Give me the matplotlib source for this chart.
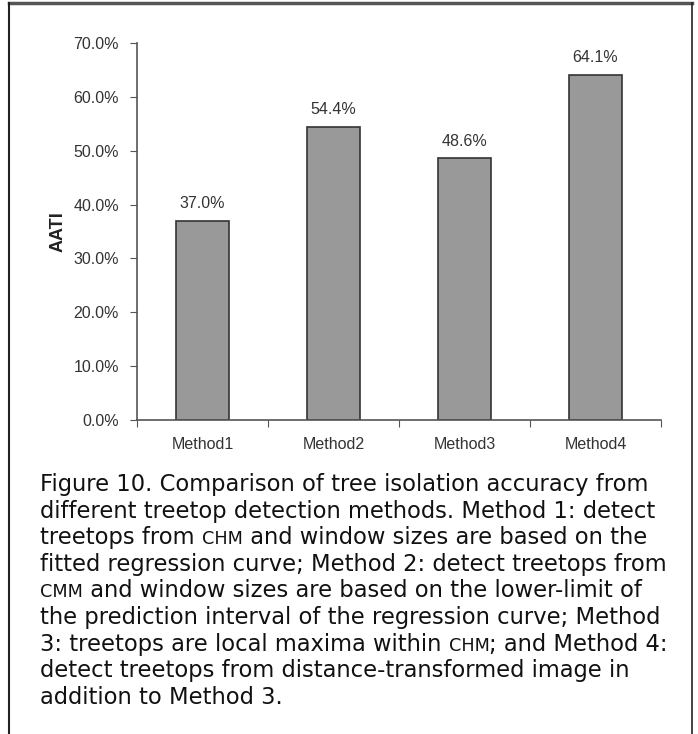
import matplotlib
matplotlib.use("Agg")
import matplotlib.pyplot as plt
from matplotlib.lines import Line2D
from matplotlib.ticker import FuncFormatter, FixedLocator

methods = ["Method1", "Method2", "Method3", "Method4"]
aati = [37.0, 54.4, 48.6, 64.1]
y_ticks = [0, 10, 20, 30, 40, 50, 60, 70]

caption_lines = [
    [("Figure 10. Comparison of tree isolation accuracy from", 1)],
    [("different treetop detection methods. Method 1: detect", 1)],
    [("treetops from ", 1), ("CHM", 0.78), (" and window sizes are based on the", 1)],
    [("fitted regression curve; Method 2: detect treetops from", 1)],
    [("CMM", 0.78), (" and window sizes are based on the lower-limit of", 1)],
    [("the prediction interval of the regression curve; Method", 1)],
    [("3: treetops are local maxima within ", 1), ("CHM", 0.78), ("; and Method 4:", 1)],
    [("detect treetops from distance-transformed image in", 1)],
    [("addition to Method 3.", 1)],
]

W, H = 698, 734
fig = plt.figure(figsize=(W / 100, H / 100), dpi=100)
fig.patch.set_facecolor("white")

lab_font = "Liberation Sans"
lab_size = 11.5

ax = fig.add_axes([137 / W, 1 - 420 / H, (661 - 137) / W, (420 - 43) / H])
x = range(len(methods))
ax.bar(x, aati, width=0.4, color="#999999", edgecolor="#333333", linewidth=1.2)
for i, v in enumerate(aati):
    ax.text(i, v + 1.8, f"{v:.1f}%", ha="center", va="bottom",
            fontsize=lab_size, color="#333333", family=lab_font)

ax.set_xlim(-0.5, len(methods) - 0.5)
ax.set_ylim(0, 70)
ax.set_yticks(y_ticks)
ax.yaxis.set_major_formatter(FuncFormatter(lambda v, p: f"{v:.1f}%"))
ax.xaxis.set_major_locator(FixedLocator([i - 0.5 for i in range(len(methods) + 1)]))
ax.xaxis.set_minor_locator(FixedLocator(list(x)))
ax.xaxis.set_major_formatter(FuncFormatter(lambda v, p: ""))
ax.set_xticklabels(methods, minor=True)
ax.tick_params(axis="x", which="minor", length=0, pad=12, labelsize=lab_size,
               labelcolor="#333333")
ax.tick_params(axis="x", which="major", length=5, direction="out", color="#555555")
ax.tick_params(axis="y", length=5, direction="out", color="#555555", labelsize=lab_size,
               labelcolor="#333333", pad=8)
for lbl in ax.get_xticklabels(minor=True) + ax.get_yticklabels():
    lbl.set_family(lab_font)
for s in ["top", "right"]:
    ax.spines[s].set_visible(False)
for s in ["left", "bottom"]:
    ax.spines[s].set_color("#555555")
    ax.spines[s].set_linewidth(1.2)
ax.set_ylabel("AATI", fontsize=13, fontweight="bold", family=lab_font,
              color="#222222", labelpad=5)

# frame around the figure (open at the bottom)
fig.add_artist(Line2D([9 / W, 692 / W], [1 - 3 / H, 1 - 3 / H], color="#555555", lw=2.5))
fig.add_artist(Line2D([9 / W, 9 / W], [0, 1 - 3 / H], color="#222222", lw=1.5))
fig.add_artist(Line2D([692 / W, 692 / W], [0, 1 - 3 / H], color="#222222", lw=1.2))

# caption, with small caps pieces drawn smaller
fig.canvas.draw()
renderer = fig.canvas.get_renderer()
base_size = 16.3
y0 = 491
line_gap = 26.6
for n, segs in enumerate(caption_lines):
    xp = 40
    yp = y0 + n * line_gap
    for txt, scale in segs:
        t = fig.text(xp / W, 1 - yp / H, txt, fontsize=base_size * scale,
                     family="DejaVu Sans", color="#111111", va="baseline", ha="left")
        ext = t.get_window_extent(renderer)
        xp = ext.x1

fig.savefig("out.png", dpi=100, facecolor="white")
